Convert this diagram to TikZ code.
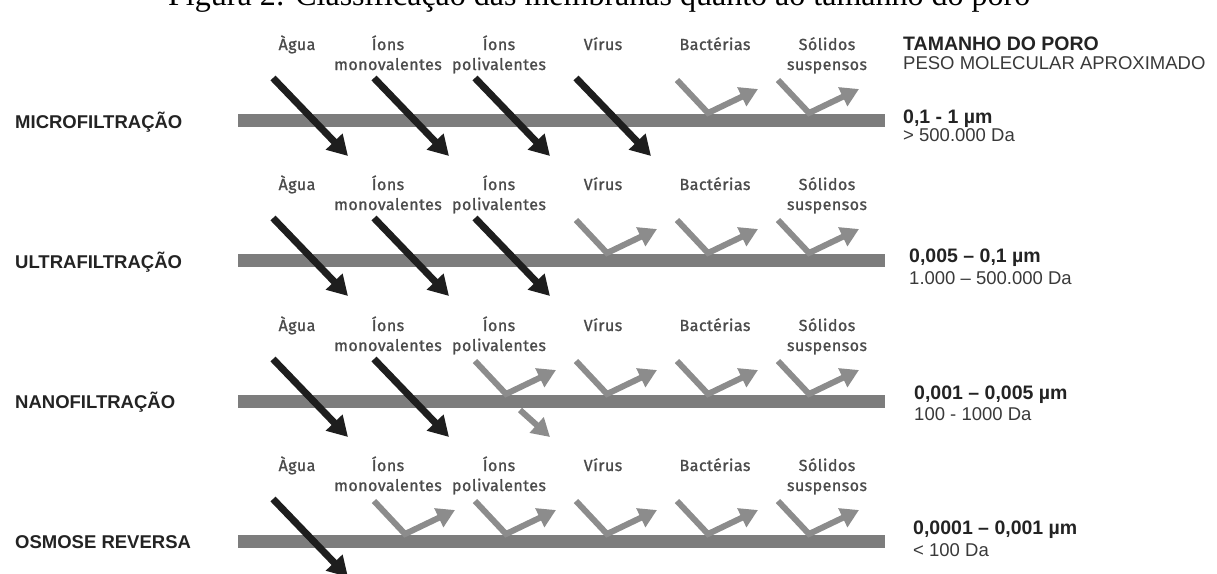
\documentclass[tikz,border=0pt]{standalone}
\usepackage{fontspec}
\setmainfont{Liberation Sans}
\newfontfamily\labelfont[LetterSpace=3,FakeBold=1.2]{Fira Sans}
\newfontfamily\capfont{Liberation Serif}
\usetikzlibrary{arrows.meta}

\definecolor{membrana}{RGB}{125,125,125}
\definecolor{passa}{RGB}{30,30,30}
\definecolor{retido}{RGB}{140,140,140}
\definecolor{rotulo}{RGB}{75,75,75}
\definecolor{texto}{RGB}{35,35,35}

% particle names above one membrane (#1 = row tag, #2 = membrane y)
\newcommand{\columnlabels}[2]{%
  \node[collab] (agua-#1) at (297,#2-70) {Àgua};
  \node[collab] (mono-#1) at (388,#2-70) {Íons};
  \node[collab] (monob-#1) at (388,#2-50) {monovalentes};
  \node[collab] (poli-#1) at (499,#2-70) {Íons};
  \node[collab] (polib-#1) at (499,#2-50) {polivalentes};
  \node[collab] (virus-#1) at (603,#2-70) {Vírus};
  \node[collab] (bact-#1) at (715,#2-70) {Bactérias};
  \node[collab] (sol-#1) at (827,#2-70) {Sólidos};
  \node[collab] (solb-#1) at (827,#2-50) {suspensos};
}
% passes through / held back (#1 = column x, #2 = membrane y)
\newcommand{\passarrow}[2]{\draw[passline] (#1,#2-42) -- (#1+75,#2+36);}
\newcommand{\blockarrow}[2]{\draw[blockline] (#1,#2-40) -- (#1+31,#2-7) -- (#1+81,#2-31);}

\begin{document}
\begin{tikzpicture}[x=1pt,y=-1pt,
  membrane/.style={line width=13pt, color=membrana},
  passline/.style={line width=7pt, color=passa, -{Triangle[length=20pt,width=22pt]}},
  blockline/.style={line width=6pt, color=retido, -{Triangle[length=18pt,width=20pt]}},
  collab/.style={font=\labelfont\fontsize{16}{18}\selectfont, text=rotulo, anchor=base, inner sep=0pt},
  rowname/.style={font=\bfseries\fontsize{18.5}{22}\selectfont, text=texto, anchor=base west, inner sep=0pt},
  poresize/.style={font=\bfseries\fontsize{19.5}{22}\selectfont, text=texto, anchor=base west, inner sep=0pt},
  molweight/.style={font=\fontsize{18.5}{22}\selectfont, text=texto!90, anchor=base west, inner sep=0pt}]
  \clip (0,0) rectangle (1217,573);

  \node[font=\capfont\fontsize{32}{36}\selectfont, anchor=base west, inner sep=0pt] (caption) at (168,5)
    {Figura 2: Classificação das membranas quanto ao tamanho do poro};

  \node[poresize] (head) at (903,50) {TAMANHO DO PORO};
  \node[molweight] (headb) at (903,69) {PESO MOLECULAR APROXIMADO};

  % microfiltracao
  \node[rowname] (mf) at (15,128) {MICROFILTRAÇÃO};
  \draw[membrane] (238,120) -- (885,120);
  \columnlabels{mf}{120}
  \passarrow{273}{120}
  \passarrow{374}{120}
  \passarrow{475}{120}
  \passarrow{576}{120}
  \blockarrow{677}{120}
  \blockarrow{778}{120}
  \node[poresize] (mfp) at (903,123) {0,1 - 1 µm};
  \node[molweight] (mfw) at (903,141) {> 500.000 Da};

  % ultrafiltracao
  \node[rowname] (uf) at (15,268) {ULTRAFILTRAÇÃO};
  \draw[membrane] (238,260) -- (885,260);
  \columnlabels{uf}{260}
  \passarrow{273}{260}
  \passarrow{374}{260}
  \passarrow{475}{260}
  \blockarrow{576}{260}
  \blockarrow{677}{260}
  \blockarrow{778}{260}
  \node[poresize] (ufp) at (909,262) {0,005 – 0,1 µm};
  \node[molweight] (ufw) at (909,284) {1.000 – 500.000 Da};

  % nanofiltracao
  \node[rowname] (nf) at (15,408) {NANOFILTRAÇÃO};
  \draw[membrane] (238,401) -- (885,401);
  \columnlabels{nf}{401}
  \passarrow{273}{401}
  \passarrow{374}{401}
  \blockarrow{475}{401}
  \draw[blockline] (520,410) -- (550,437);
  \blockarrow{576}{401}
  \blockarrow{677}{401}
  \blockarrow{778}{401}
  \node[poresize] (nfp) at (914,399) {0,001 – 0,005 µm};
  \node[molweight] (nfw) at (914,420) {100 - 1000 Da};

  % osmose reversa
  \node[rowname] (or) at (15,548) {OSMOSE REVERSA};
  \draw[membrane] (238,541) -- (885,541);
  \columnlabels{or}{541}
  \passarrow{273}{541}
  \blockarrow{374}{541}
  \blockarrow{475}{541}
  \blockarrow{576}{541}
  \blockarrow{677}{541}
  \blockarrow{778}{541}
  \node[poresize] (orp) at (913,534) {0,0001 – 0,001 µm};
  \node[molweight] (orw) at (913,556) {< 100 Da};
\end{tikzpicture}
\end{document}
